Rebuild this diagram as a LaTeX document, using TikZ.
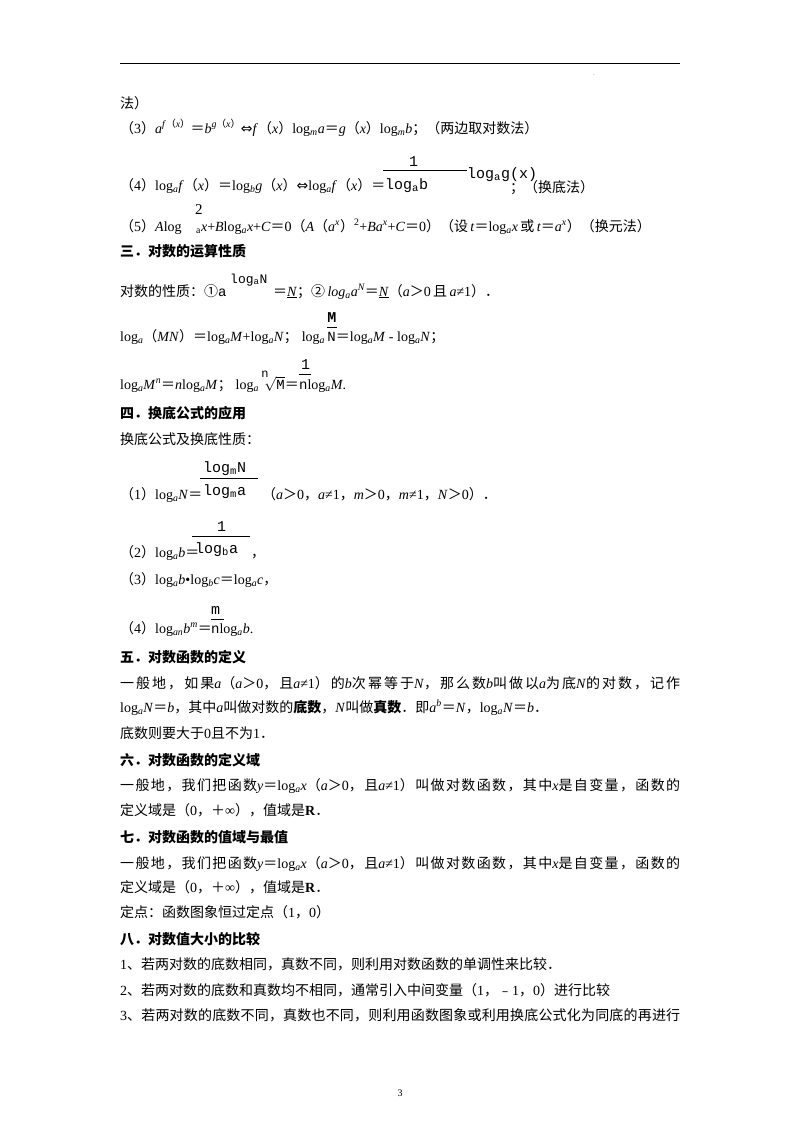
\documentclass[tikz,border=0pt]{standalone}
\usepackage{fontspec}
\setmainfont{Liberation Serif}
\newfontfamily\cjk{Noto Sans CJK SC}
\newfontfamily\sym{DejaVu Sans}
\newfontfamily\mono{Liberation Mono}
\XeTeXinterchartokenstate=1
\newXeTeXintercharclass\cjkclass
\newcount\cc
\def\setrange#1#2{\cc=#1 \loop\XeTeXcharclass\cc=\cjkclass \advance\cc1 \ifnum\cc<#2 \repeat}
\setrange{"4E00}{"A000}
\setrange{"FF01}{"FF5F}
\setrange{"3000}{"3040}
\setrange{"2460}{"2474}
\setrange{"FE30}{"FE70}
\XeTeXinterchartoks 0 \cjkclass = {\cjk}
\XeTeXinterchartoks 4095 \cjkclass = {\cjk}
\XeTeXinterchartoks \cjkclass 0 = {\rmfamily}
\XeTeXinterchartoks \cjkclass 4095 = {\rmfamily}
\XeTeXinterchartoks \cjkclass \cjkclass = {\hskip0pt plus 3pt\relax}
\newcommand\I[1]{\textit{#1}}
\newcommand\lgs[1]{log\textsubscript{\textit{#1}}}
\newcommand\ssup[1]{\textsuperscript{#1}}
\newcommand\full[1]{\makebox[560pt][s]{#1}}
\tikzset{
 t/.style={anchor=base west, inner sep=0pt, font=\fontsize{14}{16}\selectfont},
 hd/.style={anchor=base west, inner sep=0pt, font=\fontsize{14}{16}\selectfont\bfseries},
 mf/.style={anchor=base west, inner sep=0pt, font=\fontsize{15}{16}\mono},
 bar/.style={line width=0.8pt}
}
\begin{document}
\begin{tikzpicture}[x=1pt,y=-1pt]
\useasboundingbox (0,0) rectangle (800,1132);
\fill[white] (0,0) rectangle (800,1132);
\coordinate (ta) at (120,63); \coordinate (tb) at (680,63);
\draw[line width=0.8pt] (ta) -- (tb);
\node[inner sep=0pt, font=\tiny] (dot) at (594,75) {.};
\node[t] (l0) at (120,108) {法）};
\node[t] (l1) at (120,133) {（3）\I{a}\ssup{\I{f}（\I{x}）}＝\I{b}\ssup{\I{g}（\I{x}）}{\sym ⇔}\I{f}（\I{x}）\lgs{m}\I{a}＝\I{g}（\I{x}）\lgs{m}\I{b}；（两边取对数法）};
\node[t] (l2) at (120,190) {（4）\lgs{a}\I{f}（\I{x}）＝\lgs{b}\I{g}（\I{x}）{\sym ⇔}\lgs{a}\I{f}（\I{x}）＝};
\node[mf] (f1n) at (409,166) {1};
\coordinate (f1a) at (383,170); \coordinate (f1b) at (467,170);
\draw[bar] (f1a) -- (f1b);
\node[mf] (f1d) at (385,189) {log\textsubscript{a}b};
\node[mf] (f1r) at (467,178) {log\textsubscript{a}g(x)};
\node[t] (l2b) at (510,192) {；（换底法）};
\node[t] (l3a) at (120,231) {（5）\I{A}log};
\node[t,font=\fontsize{15}{16}\selectfont] (l3s) at (195,214) {2};
\node[t] (l3b) at (196,231) {\textsubscript{a}\I{x}+\I{B}\lgs{a}\I{x}+\I{C}＝0（\I{A}（\I{a}\ssup{\I{x}}）\ssup{2}+\I{B}\I{a}\ssup{\I{x}}+\I{C}＝0）（设\,\I{t}＝\lgs{a}\I{x}\,或\,\I{t}＝\I{a}\ssup{\I{x}}）（换元法）};
\node[hd] (h3) at (120,256) {三．对数的运算性质};
\node[t] (l4) at (120,296) {对数的性质：①{\mono a}};
\node[mf,font=\fontsize{13}{14}\mono] (l4s) at (230,283) {log\textsubscript{a}N};
\node[t] (l4b) at (273,296) {＝\underline{\I{N}}；②\,\I{log\textsubscript{a}a\ssup{N}}＝\underline{\I{N}}（\I{a}＞0\,且\,\I{a}≠1）．};
\node[t] (l5) at (120,341) {\lgs{a}（\I{MN}）＝\lgs{a}\I{M}+\lgs{a}\I{N}；\;\lgs{a}};
\node[mf, anchor=base west] (f2n) at ([shift={(2,-19)}]l5.base east) {\bfseries M};
\draw[bar] ([shift={(2,-14)}]l5.base east) -- ++(10,0);
\node[t] (l5b) at ([xshift=2pt]l5.base east) {{\mono N}＝\lgs{a}\I{M} - \lgs{a}\I{N}；};
\node[t] (l6) at (120,389) {\lgs{a}\I{M}\ssup{\I{n}}＝\I{n}\lgs{a}\I{M}；\;\lgs{a}};
\node[mf,font=\fontsize{12}{13}\mono] (l6n) at ([shift={(2,-12)}]l6.base east) {n};
\node[t] (l6r) at ([xshift=5pt]l6.base east) {$\sqrt{\hbox{\mono M}}$＝};
\node[mf] (f3n) at ([shift={(2,-20)}]l6r.base east) {1};
\draw[bar] ([shift={(0,-15)}]l6r.base east) -- ++(12,0);
\node[t] (l6c) at (l6r.base east) {{\mono n}\lgs{a}\I{M}.};
\node[hd] (h4) at (120,418) {四．换底公式的应用};
\node[t] (l7) at (120,444) {换底公式及换底性质：};
\node[t] (l8) at (120,499) {（1）\lgs{a}\I{N}＝};
\node[mf] (f4n) at (203,472) {log\textsubscript{m}N};
\coordinate (f4a) at (200,478); \coordinate (f4b) at (258,478);
\draw[bar] (f4a) -- (f4b);
\node[mf] (f4d) at (203,495) {log\textsubscript{m}a};
\node[t] (l8b) at (262,499) {（\I{a}＞0，\I{a}≠1，\I{m}＞0，\I{m}≠1，\I{N}＞0）．};
\node[t] (l9) at (120,557) {（2）\lgs{a}\I{b}＝};
\node[mf] (f5n) at (217,531) {1};
\coordinate (f5a) at (192,536); \coordinate (f5b) at (250,536);
\draw[bar] (f5a) -- (f5b);
\node[mf] (f5d) at (195,553) {log\textsubscript{b}a};
\node[t] (l9b) at (251,557) {，};
\node[t] (l10) at (120,584) {（3）\lgs{a}\I{b}•\lgs{b}\I{c}＝\lgs{a}\I{c}，};
\node[t] (l11) at (120,633) {（4）\lgs{an}\I{b}\ssup{\I{m}}＝};
\node[mf] (f6n) at (211,614) {m};
\coordinate (f6a) at (211,619); \coordinate (f6b) at (224,619);
\draw[bar] (f6a) -- (f6b);
\node[t] (l11b) at (211,633) {{\mono n}\lgs{a}\I{b}.};
\node[hd] (h5) at (120,662) {五．对数函数的定义};
\node[t] (l12) at (120,688) {\full{一般地，如果\I{a}（\I{a}＞0，且\I{a}≠1）的\I{b}次幂等于\I{N}，那么数\I{b}叫做以\I{a}为底\I{N}的对数，记作}};
\node[t] (l13) at (120,712) {\lgs{a}\I{N}＝\I{b}，其中\I{a}叫做对数的{\bfseries 底数}，\I{N}叫做{\bfseries 真数}．即\I{a}\ssup{\I{b}}＝\I{N}，\lgs{a}\I{N}＝\I{b}．};
\node[t] (l14) at (120,738) {底数则要大于0且不为1．};
\node[hd] (h6) at (120,765) {六．对数函数的定义域};
\node[t] (l15) at (120,790) {\full{一般地，我们把函数\I{y}＝\lgs{a}\I{x}（\I{a}＞0，且\I{a}≠1）叫做对数函数，其中\I{x}是自变量，函数的}};
\node[t] (l16) at (120,815) {定义域是（0，＋∞），值域是\textbf{R}．};
\node[hd] (h7) at (120,842) {七．对数函数的值域与最值};
\node[t] (l17) at (120,868) {\full{一般地，我们把函数\I{y}＝\lgs{a}\I{x}（\I{a}＞0，且\I{a}≠1）叫做对数函数，其中\I{x}是自变量，函数的}};
\node[t] (l18) at (120,892) {定义域是（0，＋∞），值域是\textbf{R}．};
\node[t] (l19) at (120,917) {定点：函数图象恒过定点（1，0）};
\node[hd] (h8) at (120,944) {八．对数值大小的比较};
\node[t] (l20) at (120,969) {1、若两对数的底数相同，真数不同，则利用对数函数的单调性来比较．};
\node[t] (l21) at (120,995) {2、若两对数的底数和真数均不相同，通常引入中间变量（1，﹣1，0）进行比较};
\node[t] (l22) at (120,1020) {\full{3、若两对数的底数不同，真数也不同，则利用函数图象或利用换底公式化为同底的再进行}};
\node[anchor=base, inner sep=0pt, font=\fontsize{10}{12}\selectfont] (pg) at (400,1096) {3};
\end{tikzpicture}
\end{document}
